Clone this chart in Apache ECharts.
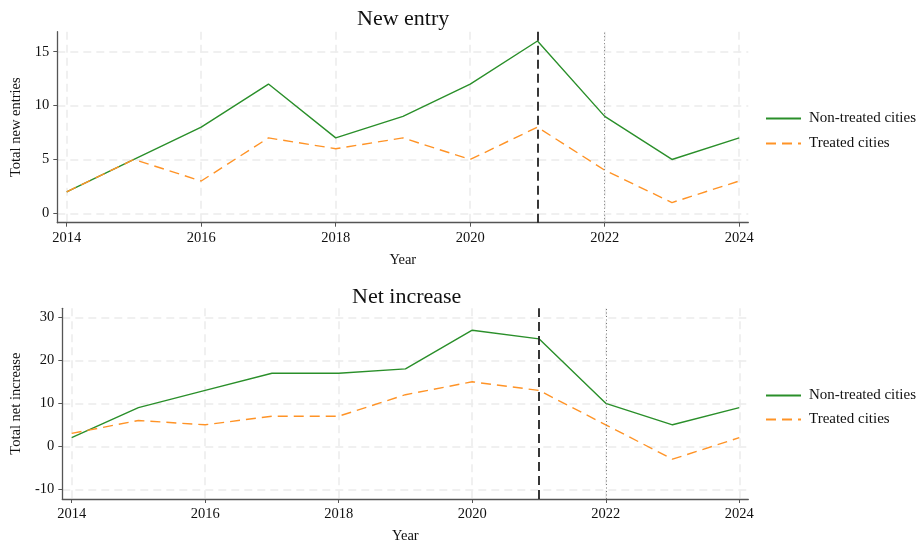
<!DOCTYPE html>
<html>
<head>
<meta charset="utf-8">
<script src="https://cdn.jsdelivr.net/npm/echarts@6/dist/echarts.min.js"></script>
<style>
  html, body { margin: 0; padding: 0; background: #ffffff; }
  #chart { width: 919px; height: 546px; }
</style>
</head>
<body>
<div id="chart"></div>
<script>
// Yearly counts for non-treated and treated cities
const years = [2014, 2015, 2016, 2017, 2018, 2019, 2020, 2021, 2022, 2023, 2024];
const entryNonTreated = [2, 5, 8, 12, 7, 9, 12, 16, 9, 5, 7];
const entryTreated    = [2, 5, 3, 7, 6, 7, 5, 8, 4, 1, 3];
const netNonTreated   = [2, 9, 13, 17, 17, 18, 27, 25, 10, 5, 9];
const netTreated      = [3, 6, 5, 7, 7, 12, 15, 13, 5, -3, 2];

const xTicks = [2014, 2016, 2018, 2020, 2022, 2024];
const entryTicks = [0, 5, 10, 15];
const netTicks = [-10, 0, 10, 20, 30];

const policyYear = 2021;   // dashed reference line
const followYear = 2022;   // dotted reference line

const seriesNames = ['Non-treated cities', 'Treated cities'];

const FONT = '"Liberation Serif", "DejaVu Serif", serif';
const GREEN = '#2a8f2a';
const ORANGE = '#ff9326';
const gridLine = { show: true, lineStyle: { color: '#ececec', width: 1.5, type: [8, 5] } };

function pairs(vals) { return years.map((y, i) => [y, vals[i]]); }

function xAxisFor(gridIndex) {
  return {
    type: 'value', gridIndex,
    min: 2013.86, max: 2024.135,
    name: 'Year', nameLocation: 'middle', nameGap: 30,
    nameTextStyle: { fontFamily: FONT, fontSize: 14.5, color: '#111' },
    axisLine: { show: true, onZero: false, lineStyle: { color: '#555', width: 1.3 } },
    axisTick: { show: true, length: 4, customValues: xTicks, lineStyle: { color: '#555' } },
    axisLabel: {
      customValues: xTicks, formatter: v => String(v),
      fontFamily: FONT, fontSize: 14.5, color: '#111', margin: 8
    },
    splitLine: gridLine
  };
}

function yAxisFor(gridIndex, name, min, max, ticks) {
  return {
    type: 'value', gridIndex, min, max,
    name, nameLocation: 'middle', nameGap: 34,
    nameTextStyle: { fontFamily: FONT, fontSize: 14.5, color: '#111' },
    axisLine: { show: true, onZero: false, lineStyle: { color: '#555', width: 1.3 } },
    axisTick: { show: true, length: 4, customValues: ticks, lineStyle: { color: '#555' } },
    axisLabel: {
      customValues: ticks, formatter: v => String(v),
      fontFamily: FONT, fontSize: 14.5, color: '#111', margin: 8
    },
    splitLine: gridLine
  };
}

function refLines() {
  return {
    silent: true, symbol: 'none', label: { show: false },
    data: [
      { xAxis: policyYear, lineStyle: { color: '#222', width: 1.8, type: [9, 5] } },
      { xAxis: followYear, lineStyle: { color: '#777', width: 1, type: [1, 2.5] } }
    ]
  };
}

function panelSeries(idx, nonTreated, treated) {
  return [
    {
      name: seriesNames[0], type: 'line', xAxisIndex: idx, yAxisIndex: idx,
      data: pairs(nonTreated), symbol: 'none',
      lineStyle: { color: GREEN, width: 1.4 }, itemStyle: { color: GREEN },
      markLine: refLines(), z: 2
    },
    {
      name: seriesNames[1], type: 'line', xAxisIndex: idx, yAxisIndex: idx,
      data: pairs(treated), symbol: 'none',
      lineStyle: { color: ORANGE, width: 1.4, type: [10, 6] }, itemStyle: { color: ORANGE },
      z: 3
    }
  ];
}

function legendAt(top, gap) {
  return {
    data: seriesNames, orient: 'vertical', left: 760, top,
    itemWidth: 35, itemHeight: 14, itemGap: gap,
    selectedMode: false,
    itemStyle: { color: 'transparent', borderWidth: 0, opacity: 0 },
    textStyle: { fontFamily: FONT, fontSize: 15, color: '#111', padding: [0, 0, 0, 3] }
  };
}

const chart = echarts.init(document.getElementById('chart'), null, { renderer: 'canvas' });
chart.setOption({
  animation: false,
  backgroundColor: '#ffffff',
  title: [
    { text: 'New entry', left: 352, top: 3, textStyle: { fontFamily: FONT, fontSize: 22, fontWeight: 'normal', color: '#111' } },
    { text: 'Net increase', left: 347, top: 281, textStyle: { fontFamily: FONT, fontSize: 22, fontWeight: 'normal', color: '#111' } }
  ],
  legend: [legendAt(106, 10), legendAt(383, 9)],
  grid: [
    { left: 57.3, right: 170.7, top: 31.7, height: 191, containLabel: false },
    { left: 62.3, right: 170.7, top: 308.3, height: 190.7, containLabel: false }
  ],
  xAxis: [xAxisFor(0), xAxisFor(1)],
  yAxis: [
    yAxisFor(0, 'Total new entries', -0.87, 16.86, entryTicks),
    yAxisFor(1, 'Total net increase', -12.26, 32.1, netTicks)
  ],
  series: [
    ...panelSeries(0, entryNonTreated, entryTreated),
    ...panelSeries(1, netNonTreated, netTreated)
  ]
});
</script>
</body>
</html>
